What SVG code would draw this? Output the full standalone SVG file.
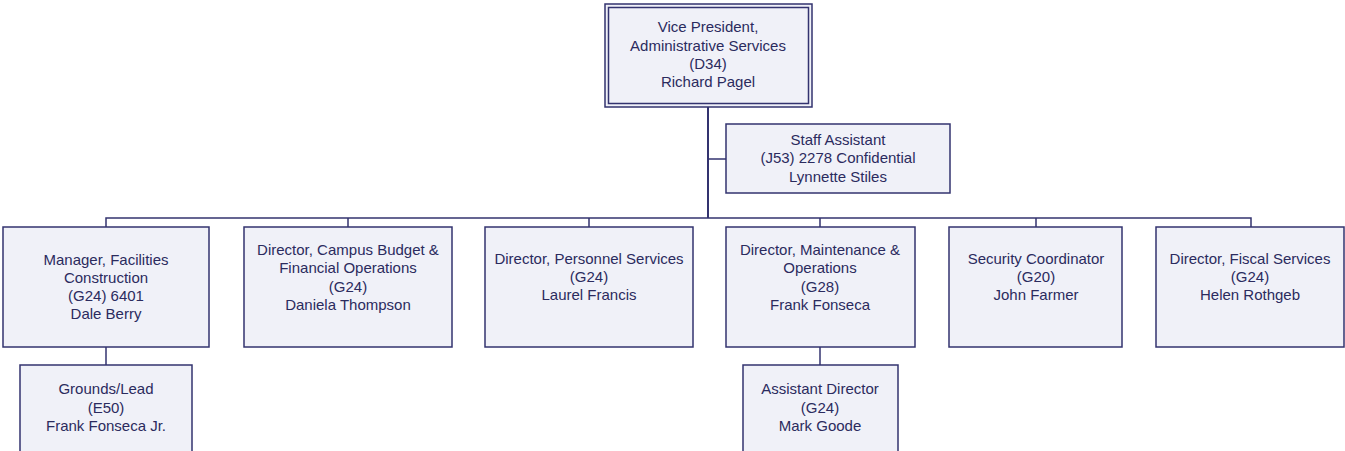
<svg xmlns="http://www.w3.org/2000/svg" width="1345" height="451" viewBox="0 0 1345 451">
<style>
rect.box{fill:#F0F1F8;stroke:#33336F;stroke-width:1.5}
path.c{fill:none;stroke:#33336F;stroke-width:1.5}
path.thick{stroke-width:2}
text{font-family:"Liberation Sans",Arial,sans-serif;font-size:15px;fill:#2B2B5E;text-anchor:middle}
</style>
<rect width="1345" height="451" fill="#ffffff"/>
<g id="connectors">
<path class="c thick" d="M708,107 V218"/>
<path class="c" d="M708,159 H726"/>
<path class="c" d="M106,227 V218 H1251 V227"/>
<path class="c" d="M348,218 V227 M589,218 V227 M820,218 V227 M1036,218 V227"/>
<path class="c" d="M106,347 V365"/>
<path class="c" d="M820,347 V365"/>
</g>
<g id="vp">
<rect class="box" x="605" y="4" width="207" height="103"/>
<rect class="box" x="608.5" y="7.5" width="200" height="96"/>
<text x="708" y="32">Vice President,</text>
<text x="708" y="51">Administrative Services</text>
<text x="708" y="69">(D34)</text>
<text x="708" y="87">Richard Pagel</text>
</g>
<g id="staff">
<rect class="box" x="726" y="124" width="224" height="69"/>
<text x="838" y="145">Staff Assistant</text>
<text x="838" y="163">(J53) 2278 Confidential</text>
<text x="838" y="182">Lynnette Stiles</text>
</g>
<g id="facilities">
<rect class="box" x="3" y="227" width="206" height="120"/>
<text x="106" y="265">Manager, Facilities</text>
<text x="106" y="283">Construction</text>
<text x="106" y="301">(G24) 6401</text>
<text x="106" y="319">Dale Berry</text>
</g>
<g id="budget">
<rect class="box" x="244" y="227" width="208" height="120"/>
<text x="348" y="255">Director, Campus Budget &amp;</text>
<text x="348" y="273">Financial Operations</text>
<text x="348" y="292">(G24)</text>
<text x="348" y="310">Daniela Thompson</text>
</g>
<g id="personnel">
<rect class="box" x="485" y="227" width="208" height="120"/>
<text x="589" y="264">Director, Personnel Services</text>
<text x="589" y="282">(G24)</text>
<text x="589" y="300">Laurel Francis</text>
</g>
<g id="maintenance">
<rect class="box" x="726" y="227" width="189" height="120"/>
<text x="820" y="255">Director, Maintenance &amp;</text>
<text x="820" y="273">Operations</text>
<text x="820" y="292">(G28)</text>
<text x="820" y="310">Frank Fonseca</text>
</g>
<g id="security">
<rect class="box" x="949" y="227" width="173" height="120"/>
<text x="1036" y="264">Security Coordinator</text>
<text x="1036" y="282">(G20)</text>
<text x="1036" y="300">John Farmer</text>
</g>
<g id="fiscal">
<rect class="box" x="1156" y="227" width="188" height="120"/>
<text x="1250" y="264">Director, Fiscal Services</text>
<text x="1250" y="282">(G24)</text>
<text x="1250" y="300">Helen Rothgeb</text>
</g>
<g id="grounds">
<rect class="box" x="20" y="365" width="172" height="95"/>
<text x="106" y="394">Grounds/Lead</text>
<text x="106" y="413">(E50)</text>
<text x="106" y="431">Frank Fonseca Jr.</text>
</g>
<g id="assistant">
<rect class="box" x="743" y="365" width="155" height="95"/>
<text x="820" y="394">Assistant Director</text>
<text x="820" y="413">(G24)</text>
<text x="820" y="431">Mark Goode</text>
</g>
</svg>
